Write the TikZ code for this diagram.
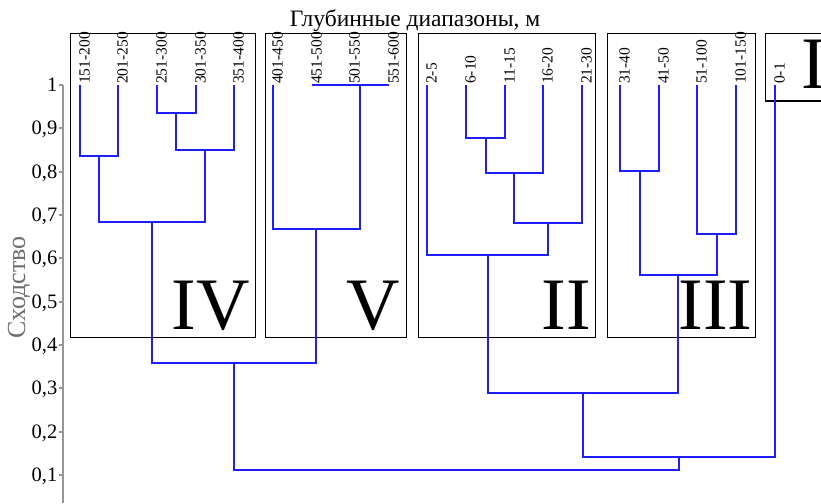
\documentclass[tikz,border=0pt]{standalone}
\usepackage{fontspec}
\setmainfont{Liberation Serif}
\definecolor{dendblue}{RGB}{30,30,255}
\definecolor{axgray}{RGB}{150,150,150}
\definecolor{labgray}{RGB}{110,110,110}
\begin{document}
\begin{tikzpicture}[x=1pt,y=-1pt,
  dend/.style={draw=dendblue, line width=1.4pt},
  grp/.style={draw=black, line width=1.2pt},
  leaflab/.style={rotate=90, anchor=north west, inner sep=0pt, font=\fontsize{15.5}{16}\selectfont},
  roman/.style={inner sep=0pt, font=\fontsize{74}{74}\selectfont, anchor=base east},
  ticklab/.style={inner sep=0pt, anchor=base east, font=\fontsize{20.5}{21}\selectfont},
  axisgray/.style={draw=axgray, line width=1.2pt}]
\useasboundingbox (0,0) rectangle (821,503);
\fill[white] (0,0) rectangle (821,503);

% title
\node[inner sep=0pt, anchor=base, font=\fontsize{23.5}{24}\selectfont] (title) at (415,27) {Глубинные диапазоны, м};

% axis
\draw[axisgray] (63,85) -- (63,503);
\foreach \v/\lab [count=\k] in {1/1, 0.9/{0,9}, 0.8/{0,8}, 0.7/{0,7}, 0.6/{0,6}, 0.5/{0,5}, 0.4/{0,4}, 0.3/{0,3}, 0.2/{0,2}, 0.1/{0,1}}{
  \pgfmathsetmacro{\yy}{round(85+(1-\v)*433.3)}
  \draw[axisgray] (59,\yy) -- (63,\yy);
  \node[ticklab] (tick\k) at (57.5,\yy+6.8) {\lab};
}
\node[rotate=90, inner sep=0pt, text=labgray, font=\fontsize{26}{26}\selectfont] (ylab) at (19,287.5) {Сходство};

% group boxes
\draw[grp] (70.7,33.3) rectangle (255.7,337.3);
\draw[grp] (265.7,33.3) rectangle (406.7,337.3);
\draw[grp] (418.3,33.3) rectangle (595.7,337.3);
\draw[grp] (607.3,33.3) rectangle (755.7,337.3);
\draw[grp] (765.7,33.3) -- (821,33.3);
\draw[grp] (765.7,33.3) -- (765.7,101) -- (821,101);
\node[roman] (gIV) at (250,329) {IV};
\node[roman] (gV) at (400,329) {V};
\node[roman] (gII) at (591,329) {II};
\node[roman] (gIII) at (752.5,329) {III};
\node[roman, anchor=base west] (gI) at (801,88.5) {I};

% leaves
\foreach \n/\x/\t in {L1/80/151-200, L2/118/201-250, L3/157/251-300, L4/196/301-350, L5/234/351-400,
  L6/273/401-450, L7/312/451-500, L8/350/501-550, L9/389/551-600,
  L10/427/2-5, L11/466/6-10, L12/505/11-15, L13/543/16-20, L14/582/21-30,
  L15/620/31-40, L16/659/41-50, L17/697/51-100, L18/736/101-150, L19/775/0-1}{
  \coordinate (\n) at (\x,85);
  \node[leaflab] (\n lab) at (\x-0.8,84) {\t};
}

% merge points
\coordinate (ma) at (99,156);
\coordinate (mb) at (176,113);
\coordinate (mc) at (205,150);
\coordinate (md) at (152,222);
\coordinate (me) at (360,85);
\coordinate (mf) at (316,229);
\coordinate (mg) at (234,363);
\coordinate (mh) at (486,138);
\coordinate (mi) at (514,173);
\coordinate (mj) at (548,223);
\coordinate (mk) at (488,255);
\coordinate (ml) at (640,171);
\coordinate (mm) at (717,234);
\coordinate (mn) at (678,275);
\coordinate (mo) at (583,393);
\coordinate (mp) at (679,457);
\coordinate (mq) at (457,470);

% dendrogram
\draw[dend] (L1) |- (ma) -| (L2);
\draw[dend] (L3) |- (mb) -| (L4);
\draw[dend] (mb) |- (mc) -| (L5);
\draw[dend] (ma) |- (md) -| (mc);
\draw[dend] (L7) -- (me) -- (L9);
\draw[dend] (L6) |- (mf) -| (me);
\draw[dend] (md) |- (mg) -| (mf);
\draw[dend] (L11) |- (mh) -| (L12);
\draw[dend] (mh) |- (mi) -| (L13);
\draw[dend] (mi) |- (mj) -| (L14);
\draw[dend] (L10) |- (mk) -| (mj);
\draw[dend] (L15) |- (ml) -| (L16);
\draw[dend] (L17) |- (mm) -| (L18);
\draw[dend] (ml) |- (mn) -| (mm);
\draw[dend] (mk) |- (mo) -| (mn);
\draw[dend] (mo) |- (mp) -| (L19);
\draw[dend] (mg) |- (mq) -| (mp);
\end{tikzpicture}
\end{document}
